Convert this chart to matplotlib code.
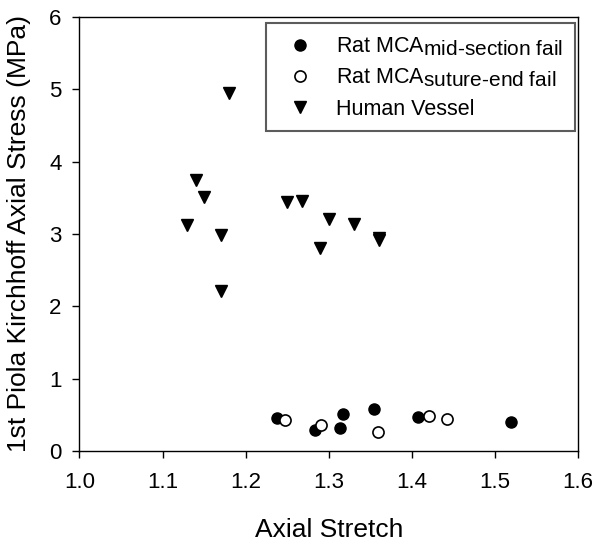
import matplotlib
matplotlib.use('Agg')
import matplotlib.pyplot as plt
import matplotlib._mathtext as mathtext_internal

plt.rcParams['font.family'] = ['Liberation Sans', 'DejaVu Sans']
plt.rcParams['mathtext.fontset'] = 'custom'
plt.rcParams['mathtext.rm'] = 'Liberation Sans'
plt.rcParams['mathtext.it'] = 'Liberation Sans'
# subscripts in the original legend are about as large as the main text
mathtext_internal.SHRINK_FACTOR = 0.97

# Rat MCA, mid-section failure
mid_x = [1.238, 1.284, 1.317, 1.314, 1.355, 1.408, 1.520]
mid_y = [0.452, 0.290, 0.507, 0.323, 0.585, 0.465, 0.406]

# Rat MCA, suture-end failure
sut_x = [1.248, 1.291, 1.359, 1.421, 1.442]
sut_y = [0.424, 0.355, 0.267, 0.488, 0.442]

# Human vessel
hum_x = [1.180, 1.140, 1.150, 1.130, 1.170, 1.170, 1.250, 1.268, 1.300, 1.330, 1.290, 1.360, 1.361]
hum_y = [4.95, 3.74, 3.51, 3.12, 2.98, 2.21, 3.44, 3.46, 3.20, 3.14, 2.81, 2.91, 2.95]

xticks = [1.0, 1.1, 1.2, 1.3, 1.4, 1.5, 1.6]
yticks = [0, 1, 2, 3, 4, 5, 6]

fig = plt.figure(figsize=(6.02, 5.45), dpi=100)
ax = fig.add_axes([0.132, 0.1725, 0.828, 0.7965])

ax.plot(mid_x, mid_y, 'o', color='black', markersize=8, linestyle='none',
        label=r'Rat MCA$_{\text{mid-section fail}}$')
ax.plot(sut_x, sut_y, 'o', markerfacecolor='white', markeredgecolor='black',
        markeredgewidth=1.2, markersize=8, linestyle='none',
        label=r'Rat MCA$_{\text{suture-end fail}}$')
ax.plot(hum_x, hum_y, 'v', color='black', markersize=9, linestyle='none',
        label='Human Vessel')

ax.set_xlim(1.0, 1.6)
ax.set_ylim(0, 6)
ax.set_xticks(xticks)
ax.set_xticklabels([f'{t:.1f}' for t in xticks])
ax.set_yticks(yticks)
ax.tick_params(direction='out', length=5, width=1, labelsize=16, top=False, right=False)
ax.tick_params(axis='x', pad=10)
ax.tick_params(axis='y', pad=8)
for s in ax.spines.values():
    s.set_linewidth(1)

ax.set_xlabel('Axial Stretch', fontsize=19, labelpad=18)
ax.set_ylabel('1st Piola Kirchhoff Axial Stress (MPa)', fontsize=19, labelpad=13)

leg = ax.legend(loc='upper right', bbox_to_anchor=(0.994, 0.985), fontsize=15.5,
                frameon=True, fancybox=False, edgecolor='#333333',
                handlelength=2.1, handletextpad=0.6, borderpad=0.55,
                labelspacing=0.42, borderaxespad=0)
leg.get_frame().set_linewidth(1.5)

fig.savefig('out.png', dpi=100)
